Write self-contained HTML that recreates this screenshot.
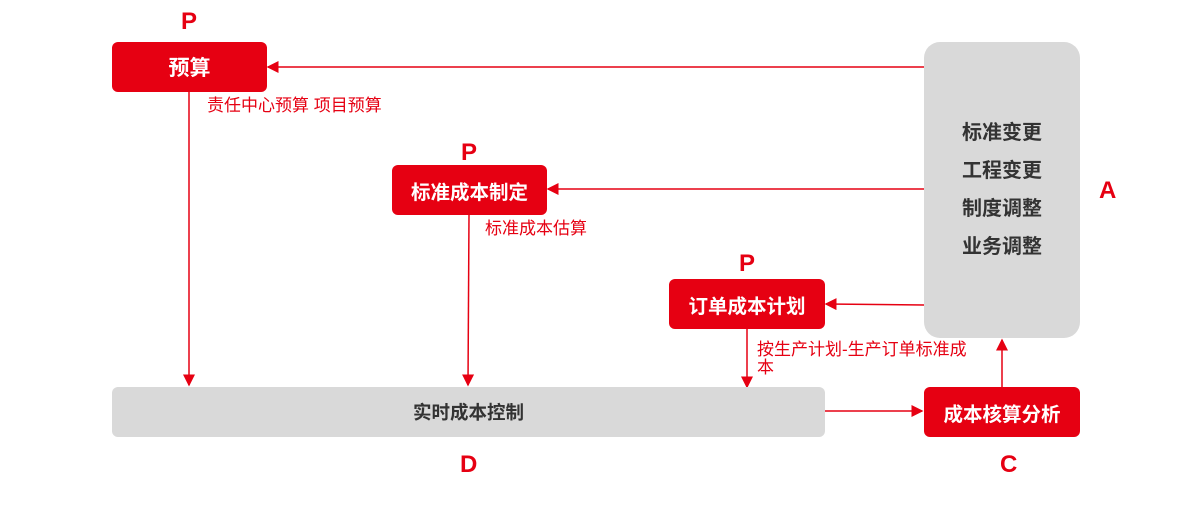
<!DOCTYPE html>
<html><head><meta charset="utf-8"><style>
body{margin:0;width:1200px;height:505px;background:#fff;position:relative;font-family:"Liberation Sans","Noto Sans CJK SC",sans-serif;overflow:hidden}
.b{position:absolute;border-radius:6px;display:flex;align-items:center;justify-content:center;font-weight:bold}
.r{background:#e60012;color:#fff;font-size:19.5px}
.g{background:#d9d9d9;color:#333}
.t{position:absolute;color:#e60012;font-size:17px;line-height:18px}
.L{position:absolute;color:#e60012;font-weight:bold;font-size:24px}
svg{position:absolute;left:0;top:0}
</style></head><body>
<svg width="1200" height="505"><defs><marker id="a" markerWidth="8" markerHeight="8" refX="7" refY="4" orient="auto"><path d="M0,0L8,4L0,8z" fill="#e60012"/></marker></defs>
<g stroke="#e60012" stroke-width="1.5" marker-end="url(#a)">
<line x1="924" y1="67" x2="268" y2="67"/>
<line x1="924" y1="189" x2="548" y2="189"/>
<line x1="924" y1="305" x2="826" y2="304"/>
<line x1="189" y1="92" x2="189" y2="385"/>
<line x1="469" y1="215" x2="468" y2="385"/>
<line x1="747" y1="329" x2="747" y2="387"/>
<line x1="825" y1="411" x2="922" y2="411"/>
<line x1="1002" y1="387" x2="1002" y2="340"/>
</g></svg>
<div class="b r" style="left:112px;top:42px;width:155px;height:50px;font-size:21px">预算</div>
<div class="b r" style="left:392px;top:165px;width:155px;height:50px">标准成本制定</div>
<div class="b r" style="left:669px;top:279px;width:156px;height:50px">订单成本计划</div>
<div class="b r" style="left:924px;top:387px;width:156px;height:50px">成本核算分析</div>
<div class="b g" style="left:112px;top:387px;width:713px;height:50px;font-size:18.5px">实时成本控制</div>
<div class="b g" style="left:924px;top:42px;width:156px;height:296px;border-radius:16px;flex-direction:column;font-size:20px;line-height:38px">标准变更<br>工程变更<br>制度调整<br>业务调整</div>
<div class="t" style="left:207px;top:97px">责任中心预算 项目预算</div>
<div class="t" style="left:485px;top:220px">标准成本估算</div>
<div class="t" style="left:757px;top:341px;width:218px">按生产计划-生产订单标准成本</div>
<div class="L" style="left:181px;top:8px">P</div>
<div class="L" style="left:461px;top:139px">P</div>
<div class="L" style="left:739px;top:250px">P</div>
<div class="L" style="left:1099px;top:177px">A</div>
<div class="L" style="left:460px;top:451px">D</div>
<div class="L" style="left:1000px;top:451px">C</div>
</body></html>
